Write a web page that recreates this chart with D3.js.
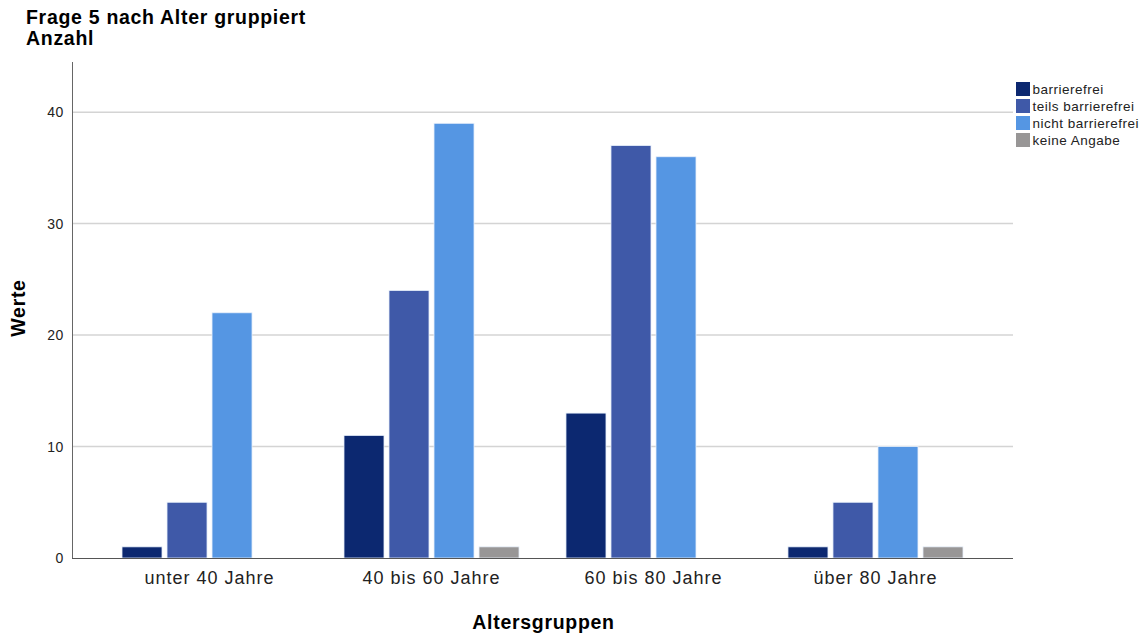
<!DOCTYPE html>
<html><head><meta charset="utf-8">
<script src="https://cdn.jsdelivr.net/npm/d3@7"></script>
<style>body{margin:0;background:#fff;} text{font-family:"Liberation Sans",Arial,sans-serif;}</style>
</head><body>
<svg id="c" width="1145" height="637"></svg>
<script>
const categories = ["unter 40 Jahre", "40 bis 60 Jahre", "60 bis 80 Jahre", "über 80 Jahre"];
const seriesNames = ["barrierefrei", "teils barrierefrei", "nicht barrierefrei", "keine Angabe"];
const barrierefrei = [1, 11, 13, 1];
const teilsBarrierefrei = [5, 24, 37, 5];
const nichtBarrierefrei = [22, 39, 36, 10];
const keineAngabe = [0, 1, 0, 1];
const yTicks = [0, 10, 20, 30, 40];
const colors = ["#0c2870", "#3f59a8", "#5596e3", "#989696"];

(function(){
const seriesValues = [barrierefrei, teilsBarrierefrei, nichtBarrierefrei, keineAngabe];
const svg = d3.select("#c");
const mL = 72, mR = 1013, mT = 62, mB = 558;

const x0 = d3.scaleBand().domain(categories).range([mL, mR]).paddingInner(0.189).paddingOuter(0.214);
const x1 = d3.scaleBand().domain(seriesNames).range([0, x0.bandwidth()]).paddingInner(5/45).paddingOuter(5/90);
const y = d3.scaleLinear().domain([0, 44.5]).range([mB, mT]);

// gridlines
svg.append("g").selectAll("line").data(yTicks.filter(d => d > 0)).join("line")
  .attr("x1", mL).attr("x2", mR).attr("y1", d => y(d)).attr("y2", d => y(d))
  .attr("stroke", "#d4d4d4").attr("stroke-width", 1.5);

// bars
const groups = svg.append("g").selectAll("g").data(categories).join("g")
  .attr("transform", d => `translate(${x0(d)},0)`);
groups.selectAll("rect").data((c, i) => seriesNames.map((s, j) => ({s, j, v: seriesValues[j][i]})).filter(d => d.v > 0))
  .join("rect")
  .attr("x", d => x1(d.s)).attr("width", x1.bandwidth())
  .attr("y", d => y(d.v)).attr("height", d => y(0) - y(d.v))
  .attr("fill", d => colors[d.j]).attr("stroke", "#e8f0fb").attr("stroke-width", 0.8);

// axes
const yAxis = d3.axisLeft(y).tickValues(yTicks).tickSize(0).tickPadding(8);
const ga = svg.append("g").attr("transform", `translate(${mL},0)`).call(yAxis);
ga.select(".domain").remove();
ga.selectAll("text").attr("font-size", 14).attr("letter-spacing", 0.6).attr("fill", "#222").attr("font-family", "Liberation Sans, Arial, sans-serif");
svg.append("line").attr("x1", mL + 0.5).attr("x2", mL + 0.5).attr("y1", mT).attr("y2", mB).attr("stroke", "#666");

const xAxis = d3.axisBottom(x0).tickSize(0).tickPadding(13);
const gx = svg.append("g").attr("transform", `translate(0,${mB})`).call(xAxis);
gx.select(".domain").remove();
gx.selectAll("text").attr("font-size", 18).attr("letter-spacing", 1.0).attr("fill", "#222").attr("font-family", "Liberation Sans, Arial, sans-serif");
svg.append("line").attr("x1", mL).attr("x2", mR).attr("y1", mB + 0.5).attr("y2", mB + 0.5).attr("stroke", "#555");

// titles
const tAttrs = sel => sel.attr("font-size", 19.5).attr("font-weight", "bold").attr("letter-spacing", 0.7);
tAttrs(svg.append("text").attr("x", 26).attr("y", 24)).text("Frage 5 nach Alter gruppiert");
tAttrs(svg.append("text").attr("x", 26).attr("y", 45)).text("Anzahl");
tAttrs(svg.append("text").attr("transform", "translate(25,308) rotate(-90)").attr("text-anchor", "middle")).text("Werte");
tAttrs(svg.append("text").attr("x", (mL + mR) / 2 + 1).attr("y", 629).attr("text-anchor", "middle")).text("Altersgruppen");

// legend
const lg = svg.append("g").attr("transform", "translate(1016,82)");
seriesNames.forEach((s, i) => {
  lg.append("rect").attr("x", 0).attr("y", i * 17).attr("width", 14).attr("height", 14).attr("fill", colors[i]);
  lg.append("text").attr("x", 16.5).attr("y", i * 17 + 12).attr("font-size", 13.5).attr("letter-spacing", 0.5).attr("fill", "#222").text(s);
});
})();
</script>
</body></html>
